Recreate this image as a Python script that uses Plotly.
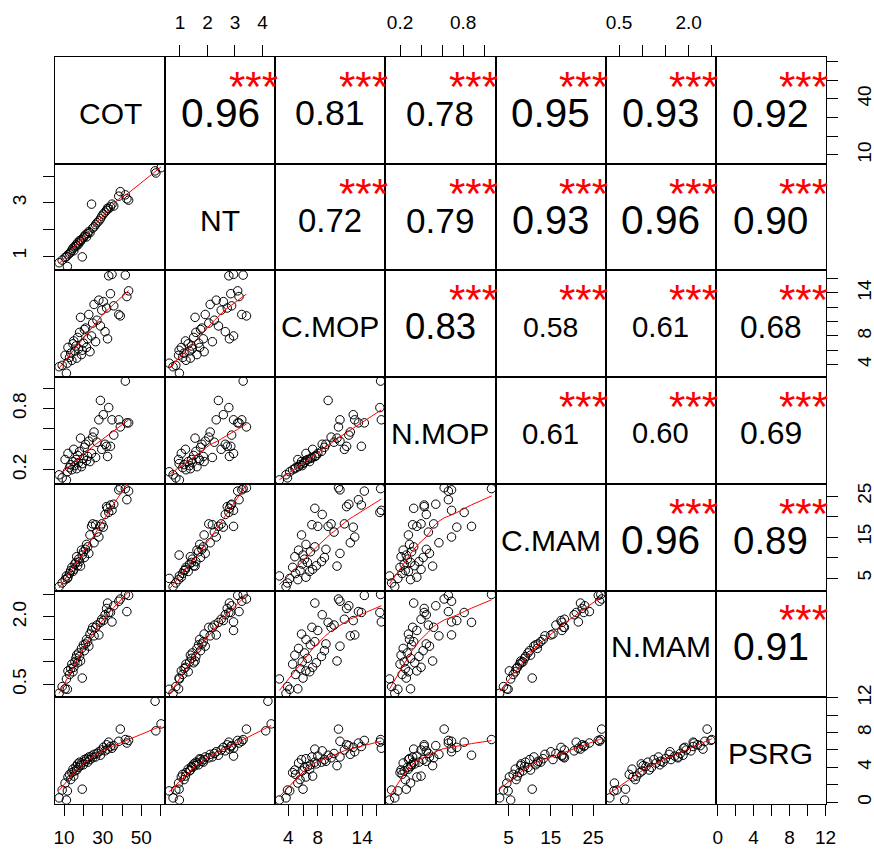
import numpy as np
import plotly.graph_objects as go
from plotly.subplots import make_subplots

# ---------------- data ----------------
names = ["COT", "NT", "C.MOP", "N.MOP", "C.MAM", "N.MAM", "PSRG"]

COT = [7.4, 9.0, 10.5, 11.2, 11.7, 12.0, 12.8, 13.4, 14.0, 14.6, 15.0, 15.6, 16.1, 16.5,
       17.0, 17.5, 18.0, 18.5, 19.0, 19.4, 20.0, 20.5, 21.1, 21.6, 22.2, 22.8, 23.4, 24.2,
       24.8, 25.5, 26.3, 27.0, 28.0, 28.8, 29.5, 30.3, 31.2, 32.0, 32.5, 33.1, 34.0, 34.8,
       35.7, 38.3, 39.1, 41.7, 42.5, 43.4, 57.1, 57.5, 60.2]
NT = [0.75, 0.85, 0.95, 0.98, 0.61, 1.05, 1.10, 1.15, 1.22, 1.30, 1.20, 1.35, 1.42, 1.38,
      1.50, 1.45, 1.58, 1.55, 1.62, 0.97, 1.68, 1.75, 1.80, 1.72, 1.85, 1.92, 1.88, 2.95,
      2.05, 2.10, 2.18, 2.25, 2.32, 2.40, 2.50, 2.58, 2.65, 2.72, 2.80, 2.78, 2.85, 2.95,
      2.88, 3.25, 3.42, 3.30, 3.15, 3.10, 4.20, 4.12, 4.32]
C_MOP = [3.7, 3.9, 5.3, 2.8, 4.2, 6.4, 5.0, 5.6, 4.6, 6.9, 7.3, 5.9, 6.6, 4.9,
         7.8, 6.2, 8.5, 10.6, 5.4, 6.0, 7.0, 8.9, 9.1, 6.4, 7.6, 11.0, 5.8, 8.0,
         9.8, 12.4, 7.2, 10.2, 13.0, 9.4, 11.6, 12.8, 8.6, 11.9, 7.6, 16.4, 13.9, 16.6,
         12.2, 11.0, 10.8, 16.5, 13.5, 14.3, None, None, None]
N_MOP = [0.15, 0.12, 0.30, 0.10, 0.18, 0.36, 0.22, 0.25, 0.20, 0.28, 0.40, 0.24, 0.30, 0.21,
         0.34, 0.27, 0.38, 0.51, 0.23, 0.26, 0.31, 0.42, 0.45, 0.29, 0.33, 0.48, 0.28, 0.36,
         0.52, 0.57, 0.32, 0.47, 0.69, 0.88, 0.40, 0.74, 0.45, 0.43, 0.33, 0.81, 0.43, 0.69,
         0.54, 0.69, 0.62, 1.07, 0.66, 0.66, None, None, None]
C_MAM = [2.9, 3.8, 4.6, 5.5, 4.9, 5.2, 6.1, 6.8, 7.6, 6.6, 7.1, 8.4, 8.8, 10.2,
         8.0, 9.6, 9.0, 7.9, 11.8, 10.6, 11.4, 10.0, 12.0, 13.2, 12.6, 11.0, 15.5, 17.6,
         18.2, 13.6, 18.0, 16.2, 15.0, 17.6, 18.2, 17.4, 20.5, 22.4, 22.0, 21.0, 22.8, 21.5,
         23.0, 26.5, 27.0, 26.8, 24.1, 26.2, None, None, None]
N_MAM = [0.30, 0.45, 0.40, 0.62, 0.39, 0.80, 0.72, 0.85, 0.95, 0.78, 0.88, 1.00, 1.08, 1.15,
         0.98, 1.20, 1.12, 1.02, 1.30, 0.64, 1.38, 1.25, 1.40, 1.50, 1.45, 1.35, 1.62, 1.70,
         1.77, 1.58, 1.77, 1.82, 1.60, 1.88, 1.95, 1.92, 2.05, 2.19, 2.31, 2.10, 2.10, 1.89,
         2.25, 2.35, 2.40, 2.50, 2.12, 2.48, None, None, None]
PSRG = [0.5, 1.4, 2.2, 0.25, 1.3, 2.9, 3.2, 2.6, 3.4, 3.8, 3.0, 3.6, 4.1, 3.7,
        4.4, 4.0, 4.6, 4.2, 4.5, 1.5, 4.3, 4.9, 4.7, 5.0, 4.6, 5.2, 4.9, 5.3,
        5.1, 5.5, 5.2, 5.6, 5.8, 5.4, 6.0, 6.3, 5.9, 6.6, 6.1, 6.9, 6.4, 6.2,
        6.5, 7.0, 8.4, 7.2, 6.8, 7.1, 11.6, 8.2, 9.0]

# correlations shown in the upper panels (row by row) and their stars
cor_values = [0.96, 0.81, 0.78, 0.95, 0.93, 0.92,
              0.72, 0.79, 0.93, 0.96, 0.90,
              0.83, 0.58, 0.61, 0.68,
              0.61, 0.60, 0.69,
              0.96, 0.89,
              0.91]
cor_stars = ["***"] * 21

# axis ticks and their labels
tick_vals = [[10, 20, 30, 40, 50, 60],
             [1, 2, 3, 4],
             [4, 6, 8, 10, 12, 14, 16],
             [0.2, 0.4, 0.6, 0.8, 1.0],
             [5, 10, 15, 20, 25],
             [0.5, 1.0, 1.5, 2.0, 2.5],
             [0, 2, 4, 6, 8, 10, 12]]
x_tick_text = [["10", "", "30", "", "50", ""],
               ["1", "2", "3", "4"],
               ["4", "", "8", "", "", "14", ""],
               ["0.2", "", "", "0.8", ""],
               ["5", "", "15", "", "25"],
               ["0.5", "", "", "2.0", ""],
               ["0", "", "4", "", "8", "", "12"]]
y_tick_text = [["10", "", "", "40", "", ""],
               ["1", "", "3", ""],
               ["4", "", "8", "", "", "14", ""],
               ["0.2", "", "", "0.8", ""],
               ["5", "", "15", "", "25"],
               ["0.5", "", "", "2.0", ""],
               ["0", "", "4", "", "8", "", "12"]]

columns = [COT, NT, C_MOP, N_MOP, C_MAM, N_MAM, PSRG]

# ---------------- helpers ----------------
def to_arr(v):
    return np.array([np.nan if a is None else a for a in v], dtype=float)

data = [to_arr(c) for c in columns]
n = len(names)

ranges = []
for d in data:
    lo, hi = np.nanmin(d), np.nanmax(d)
    pad = 0.04 * (hi - lo)
    ranges.append([lo - pad, hi + pad])


def lowess(x, y, f=2 / 3, iters=3):
    o = np.argsort(x, kind="mergesort")
    x = x[o]
    y = y[o]
    m = len(x)
    ns = max(min(int(round(f * m)), m), 2)
    rw = np.ones(m)
    ys = np.zeros(m)
    for it in range(iters + 1):
        for i in range(m):
            dist = np.abs(x - x[i])
            h = max(np.sort(dist)[ns - 1], 1e-12)
            u = dist / h
            w = np.where(u < 1, (1 - u ** 3) ** 3, 0.0) * rw
            sw = w.sum()
            if sw <= 0:
                ys[i] = y[i]
                continue
            xm = (w * x).sum() / sw
            ym = (w * y).sum() / sw
            sxx = (w * (x - xm) ** 2).sum()
            if sxx > 1e-12:
                b = (w * (x - xm) * (y - ym)).sum() / sxx
                ys[i] = ym + b * (x[i] - xm)
            else:
                ys[i] = ym
        if it == iters:
            break
        res = y - ys
        s = np.median(np.abs(res))
        if s == 0:
            break
        u = res / (6 * s)
        rw = np.where(np.abs(u) < 1, (1 - u ** 2) ** 2, 0.0)
    return x, ys


FONT = "Liberation Sans, Arial, sans-serif"
W, H = 874, 853
STAR_SIZE = 42
NAME_SIZE = 30
TICK_SIZE = 19

fig = make_subplots(rows=n, cols=n, horizontal_spacing=0, vertical_spacing=0)

annotations = []
ci = 0
for i in range(n):
    for j in range(n):
        k = i * n + j + 1
        xr = ranges[j]
        yr = ranges[i]
        xref = "x" if k == 1 else f"x{k}"
        yref = "y" if k == 1 else f"y{k}"
        fx = lambda t: xr[0] + t * (xr[1] - xr[0])
        fy = lambda t: yr[0] + t * (yr[1] - yr[0])
        if i > j:
            xv, yv = data[j], data[i]
            ok = np.isfinite(xv) & np.isfinite(yv)
            fig.add_trace(go.Scatter(x=xv[ok], y=yv[ok], mode="markers",
                                     marker=dict(symbol="circle-open", size=8.5, color="black",
                                                 line=dict(width=1, color="black")),
                                     showlegend=False, hoverinfo="skip"), row=i + 1, col=j + 1)
            lx, ly = lowess(xv[ok], yv[ok])
            fig.add_trace(go.Scatter(x=lx, y=ly, mode="lines",
                                     line=dict(color="red", width=1),
                                     showlegend=False, hoverinfo="skip"), row=i + 1, col=j + 1)
        elif i == j:
            annotations.append(dict(x=fx(0.5), y=fy(0.472), xref=xref, yref=yref,
                                    text=names[i], showarrow=False,
                                    font=dict(family=FONT, size=NAME_SIZE, color="black"),
                                    xanchor="center", yanchor="middle"))
        else:
            r = cor_values[ci]
            star = cor_stars[ci]
            ci += 1
            size = STAR_SIZE * (abs(r) + 0.3) / 1.3
            annotations.append(dict(x=fx(0.5), y=fy(0.472), xref=xref, yref=yref,
                                    text=f"{r:.2f}", showarrow=False,
                                    font=dict(family=FONT, size=size, color="black"),
                                    xanchor="center", yanchor="middle"))
            annotations.append(dict(x=fx(0.8), y=fy(0.725), xref=xref, yref=yref,
                                    text=star, showarrow=False,
                                    font=dict(family=FONT, size=STAR_SIZE, color="red"),
                                    xanchor="center", yanchor="middle"))

        # x axis
        xa = dict(range=xr, showline=True, mirror=True, linecolor="black", linewidth=1,
                  showgrid=False, zeroline=False, fixedrange=True, automargin=False,
                  tickvals=tick_vals[j], ticktext=x_tick_text[j])
        if i == n - 1 and j % 2 == 0:
            xa.update(side="bottom", ticks="outside", ticklen=11, tickwidth=1, tickcolor="black",
                      showticklabels=True, ticklabelstandoff=5,
                      tickfont=dict(family=FONT, size=TICK_SIZE, color="black"))
        elif i == 0 and j % 2 == 1:
            xa.update(side="top", ticks="outside", ticklen=11, tickwidth=1, tickcolor="black",
                      showticklabels=True, ticklabelstandoff=8,
                      tickfont=dict(family=FONT, size=TICK_SIZE, color="black"))
        else:
            xa.update(ticks="", showticklabels=False)
        fig.update_xaxes(row=i + 1, col=j + 1, **xa)

        # y axis
        ya = dict(range=yr, showline=True, mirror=True, linecolor="black", linewidth=1,
                  showgrid=False, zeroline=False, fixedrange=True, automargin=False,
                  tickvals=tick_vals[i], ticktext=y_tick_text[i])
        if j == 0 and i % 2 == 1:
            ya.update(side="left", ticks="outside", ticklen=11, tickwidth=1, tickcolor="black",
                      showticklabels=True, tickangle=-90, ticklabelstandoff=9,
                      tickfont=dict(family=FONT, size=TICK_SIZE, color="black"))
        elif j == n - 1 and i % 2 == 0:
            ya.update(side="right", ticks="outside", ticklen=11, tickwidth=1, tickcolor="black",
                      showticklabels=True, tickangle=-90, ticklabelstandoff=10,
                      tickfont=dict(family=FONT, size=TICK_SIZE, color="black"))
        else:
            ya.update(ticks="", showticklabels=False)
        fig.update_yaxes(row=i + 1, col=j + 1, **ya)

fig.update_layout(width=W, height=H, autosize=False,
                  margin=dict(l=55, r=48, t=57, b=49, pad=0, autoexpand=False),
                  paper_bgcolor="white", plot_bgcolor="white",
                  annotations=annotations, showlegend=False,
                  font=dict(family=FONT, color="black"))

fig.write_html("out.html", config={"displayModeBar": False},
               post_script="document.body.style.margin='0';document.body.style.padding='0';")
